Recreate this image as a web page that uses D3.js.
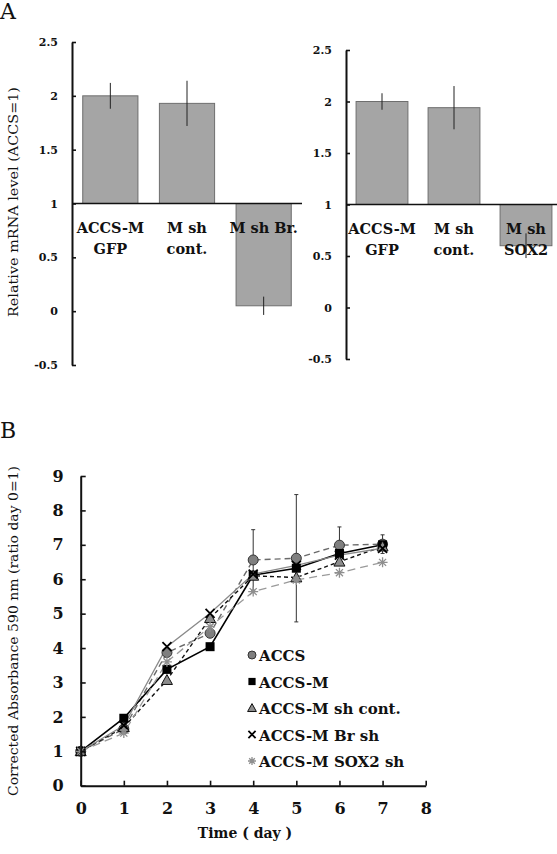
<!DOCTYPE html>
<html>
<head>
<meta charset="utf-8">
<script src="https://cdn.jsdelivr.net/npm/d3@7"></script>
<style>
  body { margin: 0; background: #fff; }
  svg { display: block; }
  text { font-family: "DejaVu Serif", "Liberation Serif", serif; fill: #111; }
</style>
</head>
<body>
<svg id="chart" width="557" height="854"></svg>
<script>
// panel A (left): Br knockdown
var catsA1 = [["ACCS-M", "GFP"], ["M sh", "cont."], ["M sh Br."]];
var valsA1 = [2.0, 1.93, 0.05];
var errA1 = [0.12, 0.21, 0.085];
// panel A (right): SOX2 knockdown
var catsA2 = [["ACCS-M", "GFP"], ["M sh", "cont."], ["M sh", "SOX2"]];
var valsA2 = [2.0, 1.94, 0.6];
var errA2 = [0.08, 0.21, 0.12];
var ticksA = [-0.5, 0, 0.5, 1, 1.5, 2, 2.5];

// panel B: growth curves
var days = [0, 1, 2, 3, 4, 5, 6, 7];
var accs = [1, 1.65, 3.87, 4.43, 6.56, 6.61, 6.99, 7.02];
var accsErr = [0, 0, 0, 0, 0.88, 1.85, 0.53, 0.27];
var accsM = [1, 1.96, 3.38, 4.04, 6.12, 6.32, 6.75, 7.0];
var shCont = [1, 1.7, 3.07, 4.87, 6.1, 6.05, 6.51, 6.95];
var brSh = [1, 1.75, 4.04, 5.01, 6.15, 6.4, 6.7, 6.9];
var sox2Sh = [1, 1.53, 3.6, 4.62, 5.64, 5.98, 6.19, 6.49];
var seriesNames = ["ACCS", "ACCS-M", "ACCS-M sh cont.", "ACCS-M Br sh", "ACCS-M SOX2 sh"];
var ticksBy = [0, 1, 2, 3, 4, 5, 6, 7, 8, 9];
var ticksBx = [0, 1, 2, 3, 4, 5, 6, 7, 8];

var svg = d3.select("#chart");

// panel letters
svg.append("text").attr("x", 0).attr("y", 19).style("font-size", "22px").text("A");
svg.append("text").attr("x", 0).attr("y", 438).style("font-size", "22px").text("B");

function barPanel(cats, vals, errs, x0, x1, yTop, yBot) {
    var g = svg.append("g");
    var x = d3.scaleBand().domain(d3.range(cats.length)).range([x0, x1]).paddingInner(0.28).paddingOuter(0.14);
    var y = d3.scaleLinear().domain([-0.5, 2.5]).range([yBot, yTop]);

    g.selectAll("rect.bar")
        .data(vals)
      .enter().append("rect")
        .attr("class", "bar")
        .attr("x", function(d, i) { return x(i) })
        .attr("width", x.bandwidth())
        .attr("y", function(d) { return y(Math.max(d, 1)) })
        .attr("height", function(d) { return Math.abs(y(d) - y(1)) })
        .attr("fill", "#a5a5a5")
        .attr("stroke", "#6e6e6e")
        .attr("stroke-width", 1);

    // baseline at 1
    g.append("line")
        .attr("x1", x0).attr("x2", x1)
        .attr("y1", y(1)).attr("y2", y(1))
        .attr("stroke", "#111").attr("stroke-width", 1.6);

    // labels
    cats.forEach(function(lines, i) {
        var t = g.append("text")
            .attr("text-anchor", "middle")
            .style("font-size", "14.5px")
            .style("font-weight", "bold");
        lines.forEach(function(s, k) {
            t.append("tspan")
                .attr("x", x(i) + x.bandwidth() / 2)
                .attr("y", y(1) + 29 + k * 21)
                .text(s);
        });
    });

    g.selectAll("line.err")
        .data(vals)
      .enter().append("line")
        .attr("class", "err")
        .attr("x1", function(d, i) { return x(i) + x.bandwidth() / 2 })
        .attr("x2", function(d, i) { return x(i) + x.bandwidth() / 2 })
        .attr("y1", function(d, i) { return y(d + errs[i]) })
        .attr("y2", function(d, i) { return y(d - errs[i]) })
        .attr("stroke", "#222").attr("stroke-width", 1);

    var ax = g.append("g")
        .attr("transform", "translate(" + x0 + ",0)")
        .call(d3.axisLeft(y).tickValues(ticksA)
            .tickFormat(function(d) { return String(d) })
            .tickSizeInner(-4).tickSizeOuter(0).tickPadding(14));
    ax.select(".domain").attr("stroke", "#111").attr("stroke-width", 2);
    ax.selectAll(".tick line").attr("stroke", "#111").attr("stroke-width", 1.6);
    ax.selectAll(".tick text").style("font-size", "11px").style("font-weight", "bold")
        .style("font-family", "DejaVu Serif").attr("fill", "#111");
    return g;
}

barPanel(catsA1, valsA1, errA1, 72, 302, 42, 365);
barPanel(catsA2, valsA2, errA2, 346, 562, 50, 359);

svg.append("text")
    .attr("transform", "translate(18,202) rotate(-90)")
    .attr("text-anchor", "middle")
    .attr("textLength", 230).attr("lengthAdjust", "spacingAndGlyphs")
    .style("font-size", "13px")
    .text("Relative mRNA level (ACCS=1)");

// ---- panel B ----
var xB = d3.scaleLinear().domain([0, 8]).range([80.7, 425.7]);
var yB = d3.scaleLinear().domain([0, 9]).range([785.7, 476]);

var styles = [
    { data: accs, color: "#6a6a6a", width: 1.4, dash: "6,4", mark: "circle" },
    { data: accsM, color: "#000", width: 1.6, dash: null, mark: "square" },
    { data: shCont, color: "#111", width: 1.4, dash: "4,3", mark: "triangle" },
    { data: brSh, color: "#8a8a8a", width: 1.3, dash: null, mark: "cross" },
    { data: sox2Sh, color: "#9a9a9a", width: 1.3, dash: "8,5", mark: "star" }
];

var line = d3.line()
    .x(function(d, i) { return xB(days[i]) })
    .y(function(d) { return yB(d) });

var gB = svg.append("g");

// error bars on ACCS
gB.selectAll("g.eb")
    .data(days.filter(function(d, i) { return accsErr[i] > 0 }))
  .enter().append("g")
    .attr("class", "eb")
    .each(function(d) {
        var e = accsErr[d], v = accs[d], cx = xB(d);
        var s = d3.select(this);
        s.append("line").attr("x1", cx).attr("x2", cx).attr("y1", yB(v + e)).attr("y2", yB(v - e))
            .attr("stroke", "#333").attr("stroke-width", 1);
        [v + e, v - e].forEach(function(w) {
            s.append("line").attr("x1", cx - 2).attr("x2", cx + 2).attr("y1", yB(w)).attr("y2", yB(w))
                .attr("stroke", "#333").attr("stroke-width", 1);
        });
    });

styles.forEach(function(s) {
    gB.append("path")
        .attr("d", line(s.data))
        .attr("fill", "none")
        .attr("stroke", s.color)
        .attr("stroke-width", s.width)
        .attr("stroke-dasharray", s.dash);
});

function drawMark(sel, kind, cx, cy, small) {
    var k = small ? 0.8 : 1;
    if (kind == "circle") {
        sel.append("circle").attr("cx", cx).attr("cy", cy).attr("r", 5 * k)
            .attr("fill", "#7f7f7f").attr("stroke", "#333").attr("stroke-width", 1);
    } else if (kind == "square") {
        sel.append("rect").attr("x", cx - 4.5 * k).attr("y", cy - 4.5 * k)
            .attr("width", 9 * k).attr("height", 9 * k).attr("fill", "#000");
    } else if (kind == "triangle") {
        var r = 5.5 * k;
        sel.append("path")
            .attr("d", "M" + cx + "," + (cy - r) + "L" + (cx + r) + "," + (cy + r * 0.8) + "L" + (cx - r) + "," + (cy + r * 0.8) + "Z")
            .attr("fill", "#8c8c8c").attr("stroke", "#111").attr("stroke-width", 1);
    } else if (kind == "cross") {
        var c = 4.5 * k;
        sel.append("path")
            .attr("d", "M" + (cx - c) + "," + (cy - c) + "L" + (cx + c) + "," + (cy + c) + "M" + (cx + c) + "," + (cy - c) + "L" + (cx - c) + "," + (cy + c))
            .attr("stroke", "#000").attr("stroke-width", 1.8);
    } else {
        var a = 5 * k, p = "";
        for (var j = 0; j < 4; j++) {
            var ang = j * Math.PI / 4;
            p += "M" + (cx - a * Math.cos(ang)) + "," + (cy - a * Math.sin(ang)) + "L" + (cx + a * Math.cos(ang)) + "," + (cy + a * Math.sin(ang));
        }
        sel.append("path").attr("d", p).attr("stroke", "#8f8f8f").attr("stroke-width", 1.3);
    }
}

styles.forEach(function(s) {
    var gm = gB.append("g");
    s.data.forEach(function(v, i) {
        drawMark(gm, s.mark, xB(days[i]), yB(v));
    });
});

var axY = gB.append("g")
    .attr("transform", "translate(" + xB(0) + ",0)")
    .call(d3.axisLeft(yB).tickValues(ticksBy).tickSizeInner(-5).tickSizeOuter(0).tickPadding(17));
var axX = gB.append("g")
    .attr("transform", "translate(0," + yB(0) + ")")
    .call(d3.axisBottom(xB).tickValues(ticksBx).tickSizeInner(-5).tickSizeOuter(0).tickPadding(17));
[axY, axX].forEach(function(a) {
    a.select(".domain").attr("stroke", "#111").attr("stroke-width", 2);
    a.selectAll(".tick line").attr("stroke", "#111").attr("stroke-width", 1.6);
    a.selectAll(".tick text").style("font-size", "16px").style("font-weight", "bold")
        .style("font-family", "DejaVu Serif").attr("fill", "#111");
});

// legend
var leg = gB.selectAll("g.leg")
    .data(seriesNames)
  .enter().append("g")
    .attr("class", "leg")
    .attr("transform", function(d, i) { return "translate(252," + (655 + i * 26.5) + ")" });
leg.each(function(d, i) { drawMark(d3.select(this), styles[i].mark, 0, 0, true) });
leg.append("text")
    .attr("x", 7).attr("y", 6)
    .style("font-size", "15px").style("font-weight", "bold")
    .text(function(d) { return d });

svg.append("text")
    .attr("transform", "translate(18,631) rotate(-90)")
    .attr("text-anchor", "middle")
    .attr("textLength", 330).attr("lengthAdjust", "spacingAndGlyphs")
    .style("font-size", "13.5px")
    .text("Corrected Absorbance 590 nm (ratio day 0=1)");

svg.append("text")
    .attr("x", 245).attr("y", 838)
    .attr("text-anchor", "middle")
    .style("font-size", "14px").style("font-weight", "bold")
    .text("Time ( day )");
</script>
</body>
</html>
